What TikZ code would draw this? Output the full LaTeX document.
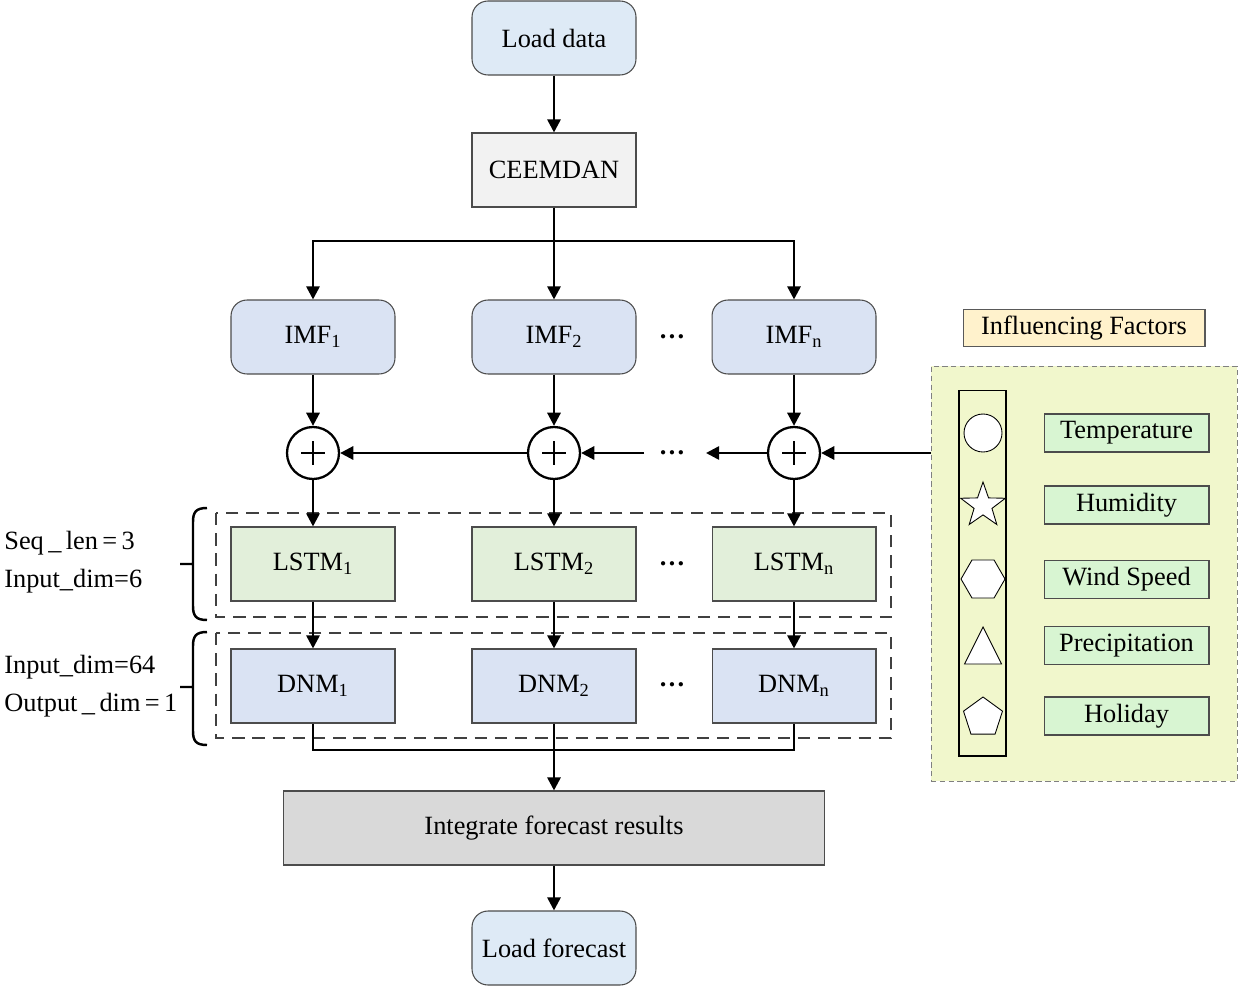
\documentclass[tikz,border=0pt]{standalone}
\usepackage{fontspec}
\setmainfont{Liberation Serif}
\usetikzlibrary{arrows.meta,shapes.geometric}

\definecolor{loadblue}{HTML}{DEEAF6}
\definecolor{imfblue}{HTML}{DAE3F3}
\definecolor{lstmgreen}{HTML}{E2EFDA}
\definecolor{ceemgray}{HTML}{F2F2F2}
\definecolor{integgray}{HTML}{D9D9D9}
\definecolor{inflorange}{HTML}{FFF2CC}
\definecolor{panelgreen}{HTML}{F1F7CC}
\definecolor{factgreen}{HTML}{D8F5D2}

\newcommand{\idx}[1]{\textsubscript{#1}}

\begin{document}
\begin{tikzpicture}[x=0.02cm, y=-0.02cm, font=\fontsize{15}{18}\selectfont,
    >={Triangle[length=7.5pt,width=7.5pt]},
    box node/.style={draw=black!70, line width=0.6pt, minimum width=3.28cm, minimum height=1.48cm, inner sep=0pt},
    round node/.style={box node, rounded corners=0.32cm},
    sum node/.style={circle, draw, line width=1.3pt, minimum size=1.04cm, inner sep=0pt},
    factor node/.style={draw=black!70, line width=0.6pt, fill=factgreen, minimum width=3.3cm, minimum height=0.76cm, inner sep=0pt},
    icon/.style={draw, line width=0.5pt, fill=white, inner sep=0pt},
    flow/.style={->, line width=1.5pt},
    group/.style={draw=black!75, line width=0.6pt, dash pattern=on 7pt off 4.5pt}]

  \useasboundingbox (0,0) rectangle (1239,986);

  % main column
  \node[round node, fill=loadblue] (load) at (554,38) {Load data};
  \node[box node, fill=ceemgray] (ceemdan) at (554,170) {CEEMDAN};
  \coordinate (split) at (554,241);

  \node[round node, fill=imfblue] (imf1) at (313,337) {IMF\idx{1}};
  \node[round node, fill=imfblue] (imf2) at (554,337) {IMF\idx{2}};
  \node[round node, fill=imfblue] (imfn) at (794,337) {IMF\idx{n}};

  \node[sum node] (sum1) at (313,453) {};
  \node[sum node] (sum2) at (554,453) {};
  \node[sum node] (sumn) at (794,453) {};
  \foreach \s in {sum1,sum2,sumn}
    \draw[line width=1.3pt] (\s.center) +(-12,0) -- +(12,0) (\s.center) +(0,-12) -- +(0,12);

  \node[box node, fill=lstmgreen] (lstm1) at (313,564) {LSTM\idx{1}};
  \node[box node, fill=lstmgreen] (lstm2) at (554,564) {LSTM\idx{2}};
  \node[box node, fill=lstmgreen] (lstmn) at (794,564) {LSTM\idx{n}};

  \node[box node, fill=imfblue] (dnm1) at (313,686) {DNM\idx{1}};
  \node[box node, fill=imfblue] (dnm2) at (554,686) {DNM\idx{2}};
  \node[box node, fill=imfblue] (dnmn) at (794,686) {DNM\idx{n}};
  \coordinate (merge) at (554,750);

  \node[box node, fill=integgray, minimum width=10.84cm] (integ) at (554,828) {Integrate forecast results};
  \node[round node, fill=loadblue] (fcast) at (554,948) {Load forecast};

  \node[inner sep=0pt] (dots0) at (672,337) {\textbf{…}};
  \node[inner sep=0pt] (dots1) at (672,453) {\textbf{…}};
  \node[inner sep=0pt] (dots2) at (672,564) {\textbf{…}};
  \node[inner sep=0pt] (dots3) at (672,685) {\textbf{…}};
  \coordinate (dotsR) at (706,453);
  \coordinate (dotsL) at (644,453);

  \draw[group] (216,513) rectangle (891,617);
  \draw[group] (216,633) rectangle (891,738);

  % braces and settings
  \draw[line width=1.4pt] (207,508) .. controls (196,508) and (193,512) .. (193,522) -- (193,606)
    .. controls (193,616) and (196,620) .. (207,620) (180,564) -- (193,564);
  \draw[line width=1.4pt] (207,632) .. controls (196,632) and (193,636) .. (193,646) -- (193,731)
    .. controls (193,741) and (196,745) .. (207,745) (180,687) -- (193,687);
  \node[anchor=west, inner sep=0pt] (seq) at (4,543) {Seq\,\_\,len\,=\,3};
  \node[anchor=west, inner sep=0pt] (indim1) at (4,581) {Input\_dim=6};
  \node[anchor=west, inner sep=0pt] (indim2) at (4,667) {Input\_dim=64};
  \node[anchor=west, inner sep=0pt] (outdim) at (4,705) {Output\,\_\,dim\,=\,1};

  % influencing factors
  \node[draw=black!65, line width=0.6pt, fill=inflorange, minimum width=4.84cm, minimum height=0.74cm] (inftitle) at (1084,328) {Influencing Factors};
  \node[draw=black!50, line width=0.4pt, densely dashed, fill=panelgreen, minimum width=6.12cm, minimum height=8.3cm] (panel) at (1084,573.5) {};
  \node[draw, line width=0.6pt, minimum width=0.94cm, minimum height=7.32cm] (column) at (982.5,573) {};

  \node[icon, circle, minimum size=0.76cm] (temp icon) at (983,433) {};
  \node[icon, star, star points=5, star point ratio=2.5, minimum size=0.94cm] (hum icon) at (983,505.5) {};
  \node[icon, regular polygon, regular polygon sides=6, minimum size=0.88cm] (wind icon) at (983,579) {};
  \draw[icon] (983,627) -- (1001.5,664) -- (964.5,664) -- cycle;
  \node[icon, regular polygon, regular polygon sides=5, minimum size=0.82cm] (hol icon) at (983,717.5) {};

  \node[factor node] (temp) at (1126.5,433) {Temperature};
  \node[factor node] (hum) at (1126.5,505) {Humidity};
  \node[factor node] (wind) at (1126.5,579.5) {Wind Speed};
  \node[factor node] (prec) at (1126.5,645.5) {Precipitation};
  \node[factor node] (hol) at (1126.5,716) {Holiday};

  % connectors
  \path[flow]
  (load) edge (ceemdan)
  (ceemdan) edge (imf2)
  (imf1) edge (sum1)
  (imf2) edge (sum2)
  (imfn) edge (sumn)
  (panel.west |- sumn) edge (sumn)
  (sumn) edge (dotsR)
  (dotsL) edge (sum2)
  (sum2) edge (sum1)
  (sum1) edge (lstm1)
  (sum2) edge (lstm2)
  (sumn) edge (lstmn)
  (lstm1) edge (dnm1)
  (lstm2) edge (dnm2)
  (lstmn) edge (dnmn)
  (dnm2) edge (integ)
  (integ) edge (fcast);
  \draw[flow] (split) -| (imf1);
  \draw[flow] (split) -| (imfn);
  \draw[line width=1.5pt] (dnm1) |- (merge) -| (dnmn);

\end{tikzpicture}
\end{document}
